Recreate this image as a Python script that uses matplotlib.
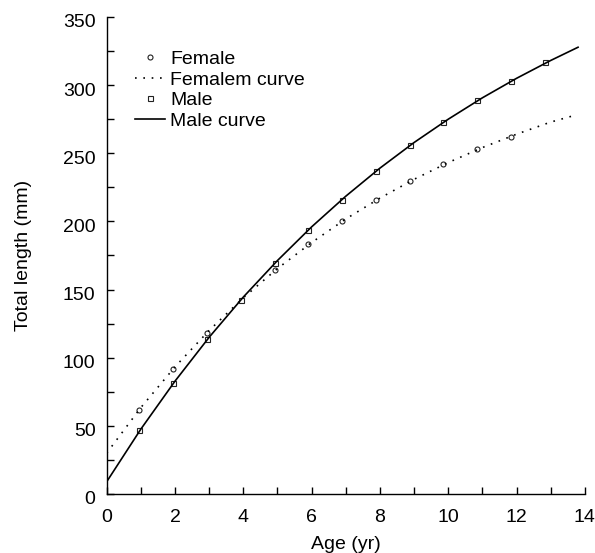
import numpy as np
import matplotlib
matplotlib.use("Agg")
import matplotlib.pyplot as plt
import matplotlib.transforms as mtransforms
from matplotlib.ticker import MultipleLocator

plt.rcParams['font.family'] = ['Liberation Sans', 'DejaVu Sans']

# ------------------------------------------------------------
# Observed mean lengths at age
# ------------------------------------------------------------
female_age = [0.95, 1.95, 2.93, 4.93, 5.9, 6.9, 7.89, 8.88, 9.86, 10.85, 11.84]
female_len = [61.5, 91.5, 118.4, 164.5, 183.5, 200.6, 215.7, 229.3, 241.8, 252.8, 262.3]

male_age = [0.95, 1.95, 2.93, 3.93, 4.93, 5.9, 6.9, 7.89, 8.88, 9.86, 10.85, 11.84, 12.83]
male_len = [47.0, 81.5, 113.5, 142.7, 169.3, 194.0, 216.0, 237.2, 255.7, 273.0, 289.0, 303.3, 316.8]

# Growth curves
female_curve_age = [0, 1, 2, 3, 4, 5, 6, 7, 8, 9, 10, 11, 12, 13, 13.7]
female_curve = [30.0, 63.4, 93.3, 120.0, 144.0, 165.4, 184.5, 201.8, 217.1,
                230.9, 243.2, 254.2, 264.0, 272.9, 277.8]
male_curve_age = [0, 1, 2, 3, 4, 5, 6, 7, 8, 9, 10, 11, 12, 13, 13.8]
male_curve = [9.0, 47.6, 82.8, 115.0, 144.5, 171.3, 196.0, 218.5, 239.1,
              257.9, 275.0, 290.7, 305.0, 318.1, 327.8]

# ------------------------------------------------------------
# Plot
# ------------------------------------------------------------
fig = plt.figure(figsize=(5.95, 5.53), dpi=100)
ax = fig.add_axes([0.1793, 0.1067, 0.8037, 0.8626])

ax.plot(female_age, female_len, 'o', ms=3.6, mfc='none', mec='#222222', mew=0.8,
        label="Female")
ax.plot(female_curve_age, female_curve, color='black', lw=1.2, ls=(0, (1, 4)),
        label="Femalem curve")
ax.plot(male_age, male_len, 's', ms=3.6, mfc='none', mec='#222222', mew=0.8,
        label="Male")
ax.plot(male_curve_age, male_curve, color='black', lw=1.2, label="Male curve")

ax.set_xlim(0, 14)
ax.set_ylim(0, 350)
ax.xaxis.set_major_locator(MultipleLocator(2))
ax.xaxis.set_minor_locator(MultipleLocator(1))
ax.yaxis.set_major_locator(MultipleLocator(50))
ax.yaxis.set_minor_locator(MultipleLocator(25))
ax.tick_params(which='both', direction='in', length=5, width=1, labelsize=14)
ax.tick_params(axis='x', pad=11)
ax.tick_params(axis='y', pad=8)

# y tick labels sit a little below their ticks in the original
shift = mtransforms.ScaledTranslation(0, -4 / 100, fig.dpi_scale_trans)
for lab in ax.get_yticklabels():
    lab.set_transform(lab.get_transform() + shift)

for s in ['top', 'right']:
    ax.spines[s].set_visible(False)
for s in ['left', 'bottom']:
    ax.spines[s].set_linewidth(1)

ax.set_xlabel("Age (yr)", fontsize=14, labelpad=7)
ax.set_ylabel("Total length (mm)", fontsize=14, labelpad=22)

ax.legend(loc='upper left', bbox_to_anchor=(0.06, 0.93), frameon=False,
          fontsize=14, handlelength=1.5, handletextpad=0.3,
          labelspacing=0.15, borderaxespad=0, borderpad=0)

fig.savefig("out.png", dpi=100)
